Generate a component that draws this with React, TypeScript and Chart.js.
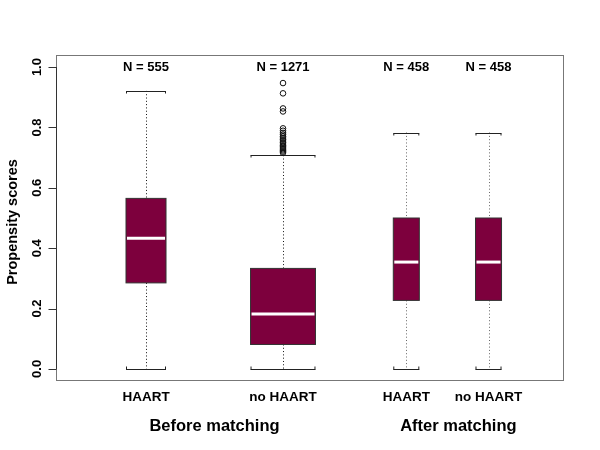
import React, { useEffect, useRef } from "react";
import { Chart, registerables } from "chart.js";
Chart.register(...registerables);

// ---- data ----
const boxLabels = ["HAART", "no HAART", "HAART", "no HAART"];
const boxPositions = [1, 2, 2.9, 3.5];
const boxCounts = [555, 1271, 458, 458];
const whiskerLow = [0.0, 0.0, 0.0, 0.0];
const quartile1 = [0.285, 0.081, 0.227, 0.227];
const medians = [0.433, 0.182, 0.354, 0.354];
const quartile3 = [0.565, 0.333, 0.5, 0.5];
const whiskerHigh = [0.921, 0.708, 0.783, 0.783];
const outliersNoHaartBefore = [
  0.947, 0.913, 0.863, 0.853, 0.797, 0.789, 0.782, 0.776, 0.77, 0.765, 0.76,
  0.755, 0.75, 0.745, 0.74, 0.736, 0.732, 0.728, 0.724, 0.72, 0.716,
];
const groupNames = ["Before matching", "After matching"];
const groupCenters = [1.5, 3.28];
const yTicks = [0, 0.2, 0.4, 0.6, 0.8, 1.0];
const yTickLabels = ["0.0", "0.2", "0.4", "0.6", "0.8", "1.0"];
const yTitle = "Propensity scores";

// ---- styles ----
const boxWidths = [0.292, 0.474, 0.19, 0.19];
const whiskerColors = ["#111", "#111", "#666", "#666"];
const FILL = "#7d003d";
const FONT = "Liberation Sans, Arial, sans-serif";

const boxPlugin = {
  id: "boxPlugin",
  beforeDatasetsDraw(chart: any) {
    const ctx = chart.ctx;
    const xs = chart.scales.x;
    const ys = chart.scales.y;
    ctx.save();
    for (let i = 0; i < boxPositions.length; i++) {
      const cx = xs.getPixelForValue(boxPositions[i]);
      const half = (xs.getPixelForValue(boxPositions[i] + boxWidths[i]) - xs.getPixelForValue(boxPositions[i])) / 2;
      const yLo = ys.getPixelForValue(whiskerLow[i]);
      const yQ1 = ys.getPixelForValue(quartile1[i]);
      const yMed = ys.getPixelForValue(medians[i]);
      const yQ3 = ys.getPixelForValue(quartile3[i]);
      const yHi = ys.getPixelForValue(whiskerHigh[i]);
      const x = Math.round(cx) + 0.5;
      // whiskers
      ctx.strokeStyle = whiskerColors[i];
      ctx.lineWidth = 1;
      ctx.setLineDash([1, 2.3]);
      ctx.beginPath();
      ctx.moveTo(x, yHi);
      ctx.lineTo(x, yQ3);
      ctx.moveTo(x, yQ1);
      ctx.lineTo(x, yLo);
      ctx.stroke();
      ctx.setLineDash([]);
      // caps
      ctx.strokeStyle = "#222";
      ctx.beginPath();
      ctx.moveTo(cx - half, Math.round(yHi) + 0.5);
      ctx.lineTo(cx + half, Math.round(yHi) + 0.5);
      ctx.moveTo(cx - half, Math.round(yLo) + 0.5);
      ctx.lineTo(cx + half, Math.round(yLo) + 0.5);
      ctx.moveTo(cx - half + 0.5, Math.round(yHi) + 0.5);
      ctx.lineTo(cx - half + 0.5, Math.round(yHi) + 2.5);
      ctx.moveTo(cx + half - 0.5, Math.round(yHi) + 0.5);
      ctx.lineTo(cx + half - 0.5, Math.round(yHi) + 2.5);
      ctx.moveTo(cx - half + 0.5, Math.round(yLo) + 0.5);
      ctx.lineTo(cx - half + 0.5, Math.round(yLo) - 2.5);
      ctx.moveTo(cx + half - 0.5, Math.round(yLo) + 0.5);
      ctx.lineTo(cx + half - 0.5, Math.round(yLo) - 2.5);
      ctx.stroke();
      // box
      ctx.fillStyle = FILL;
      ctx.fillRect(cx - half, yQ3, 2 * half, yQ1 - yQ3);
      ctx.strokeStyle = "#333";
      ctx.lineWidth = 1;
      ctx.strokeRect(cx - half, yQ3, 2 * half, yQ1 - yQ3);
      // median
      ctx.strokeStyle = "#ffffff";
      ctx.lineWidth = 3;
      ctx.beginPath();
      ctx.moveTo(cx - half + 1, yMed);
      ctx.lineTo(cx + half - 1, yMed);
      ctx.stroke();
    }
    ctx.restore();
  },
  afterDraw(chart: any) {
    const ctx = chart.ctx;
    const xs = chart.scales.x;
    const ys = chart.scales.y;
    const a = chart.chartArea;
    ctx.save();
    // plot border
    ctx.strokeStyle = "#777";
    ctx.lineWidth = 1;
    ctx.strokeRect(a.left + 0.5, a.top + 0.5, a.right - a.left - 1, a.bottom - a.top - 1);
    // y axis
    ctx.strokeStyle = "#333";
    ctx.beginPath();
    const ax = a.left + 0.5;
    ctx.moveTo(ax, ys.getPixelForValue(yTicks[0]));
    ctx.lineTo(ax, ys.getPixelForValue(yTicks[yTicks.length - 1]));
    for (const t of yTicks) {
      const y = Math.round(ys.getPixelForValue(t)) + 0.5;
      ctx.moveTo(ax - 8, y);
      ctx.lineTo(ax, y);
    }
    ctx.stroke();
    ctx.fillStyle = "#000";
    ctx.font = `bold 13px ${FONT}`;
    ctx.textAlign = "center";
    ctx.textBaseline = "middle";
    yTicks.forEach((t, i) => {
      ctx.save();
      ctx.translate(37, ys.getPixelForValue(t));
      ctx.rotate(-Math.PI / 2);
      ctx.fillText(yTickLabels[i], 0, 0);
      ctx.restore();
    });
    // y title
    ctx.save();
    ctx.font = `bold 14.5px ${FONT}`;
    ctx.translate(13, (a.top + a.bottom) / 2 + 4);
    ctx.rotate(-Math.PI / 2);
    ctx.fillText(yTitle, 0, 0);
    ctx.restore();
    // N labels
    ctx.font = `bold 13px ${FONT}`;
    ctx.textBaseline = "alphabetic";
    boxPositions.forEach((p, i) => {
      ctx.fillText(`N = ${boxCounts[i]}`, xs.getPixelForValue(p), 71);
    });
    // x labels
    ctx.font = `bold 13.5px ${FONT}`;
    boxPositions.forEach((p, i) => {
      ctx.fillText(boxLabels[i], xs.getPixelForValue(p), 401);
    });
    ctx.font = `bold 16.5px ${FONT}`;
    groupCenters.forEach((g, i) => {
      ctx.fillText(groupNames[i], xs.getPixelForValue(g), 431);
    });
    ctx.restore();
  },
};

export default function App() {
  const ref = useRef<HTMLCanvasElement | null>(null);
  useEffect(() => {
    if (!ref.current) return;
    const chart = new Chart(ref.current, {
      type: "scatter",
      data: {
        datasets: [
          {
            label: "outliers",
            data: outliersNoHaartBefore.map((v) => ({ x: boxPositions[1], y: v })),
            pointRadius: 2.8,
            pointBorderWidth: 1,
            pointBorderColor: "#111",
            pointBackgroundColor: "rgba(0,0,0,0)",
            pointStyle: "circle",
          },
        ],
      },
      options: {
        responsive: false,
        animation: false,
        devicePixelRatio: 1,
        layout: { padding: { left: 56, top: 55, right: 36, bottom: 69 } },
        plugins: { legend: { display: false }, tooltip: { enabled: false } },
        scales: {
          x: { type: "linear", min: 0.343, max: 4.051, display: false },
          y: { type: "linear", min: -0.04, max: 1.04, display: false },
        },
      },
      plugins: [boxPlugin],
    });
    return () => chart.destroy();
  }, []);
  return (
    <div style={{ position: "absolute", left: 0, top: 0, width: 600, height: 450, background: "#fff" }}>
      <canvas ref={ref} width={600} height={450} />
    </div>
  );
}
